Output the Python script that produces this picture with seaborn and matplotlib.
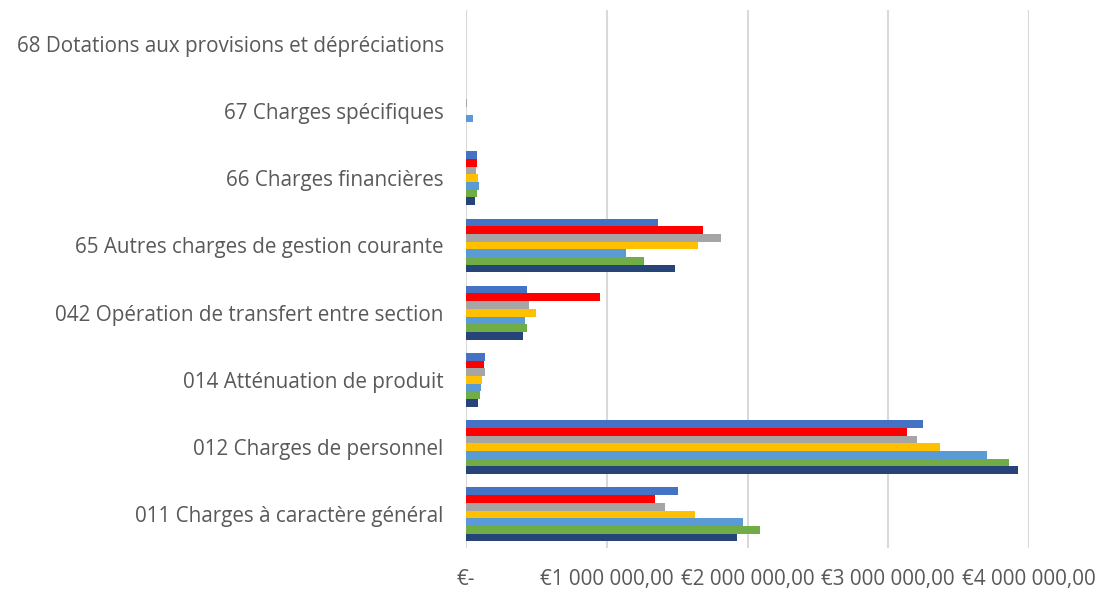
import pandas as pd
import matplotlib
matplotlib.use('Agg')
import matplotlib.pyplot as plt
from matplotlib.ticker import FuncFormatter, MultipleLocator
import seaborn as sns

categories = [
    '68 Dotations aux provisions et dépréciations',
    '67 Charges spécifiques',
    '66 Charges financières',
    '65 Autres charges de gestion courante',
    '042 Opération de transfert entre section',
    '014 Atténuation de produit',
    '012 Charges de personnel',
    '011 Charges à caractère général',
]
series_names = ['Série 1', 'Série 2', 'Série 3', 'Série 4', 'Série 5', 'Série 6', 'Série 7']
series_colors = ['#4472C4', '#FF0000', '#A5A5A5', '#FFC000', '#5B9BD5', '#70AD47', '#264478']

# one list per series, values in euros, same order as categories
serie_1 = [0, 3000, 76000, 1364000, 436000, 133000, 3248000, 1504000]
serie_2 = [0, 0, 81000, 1683000, 952000, 131000, 3134000, 1343000]
serie_3 = [0, 5000, 69000, 1810000, 445000, 133000, 3207000, 1414000]
serie_4 = [0, 0, 88000, 1648000, 500000, 112000, 3368000, 1624000]
serie_5 = [0, 52000, 95000, 1136000, 417000, 105000, 3698000, 1965000]
serie_6 = [0, 0, 76000, 1262000, 431000, 98000, 3858000, 2087000]
serie_7 = [0, 0, 64000, 1483000, 407000, 88000, 3924000, 1924000]

all_series = [serie_1, serie_2, serie_3, serie_4, serie_5, serie_6, serie_7]
rows = []
for name, vals in zip(series_names, all_series):
    for cat, v in zip(categories, vals):
        rows.append({'Catégorie': cat, 'Série': name, 'Montant': v})
df = pd.DataFrame(rows)

sns.set_style('white')
plt.rcParams['font.family'] = ['Open Sans', 'DejaVu Sans']

fig = plt.figure(figsize=(11, 5.92), dpi=100)
ax = fig.add_axes([0.4236, 0.0743, 0.5119, 0.9087])

sns.barplot(
    data=df, y='Catégorie', x='Montant', hue='Série',
    order=categories, hue_order=series_names,
    palette=series_colors, orient='h', width=0.8,
    saturation=1, linewidth=0, legend=False, ax=ax
)


def euro_fmt(x, pos):
    if x == 0:
        return '€-'
    s = f'{x:,.2f}'.replace(',', ' ').replace('.', ',')
    return '€' + s


ax.set_xlim(0, 4000000)
ax.set_ylim(7.5, -0.5)
ax.xaxis.set_major_locator(MultipleLocator(1000000))
ax.xaxis.set_major_formatter(FuncFormatter(euro_fmt))
ax.grid(axis='x', color='#D9D9D9', linewidth=1.5)
ax.set_axisbelow(True)
for sp in ax.spines.values():
    sp.set_visible(False)
ax.set_xlabel('')
ax.set_ylabel('')
ax.tick_params(axis='both', length=0, labelsize=14.9, colors='#595959')
ax.tick_params(axis='x', pad=15)
ax.tick_params(axis='y', pad=16)

plt.savefig('out.png', dpi=100)
